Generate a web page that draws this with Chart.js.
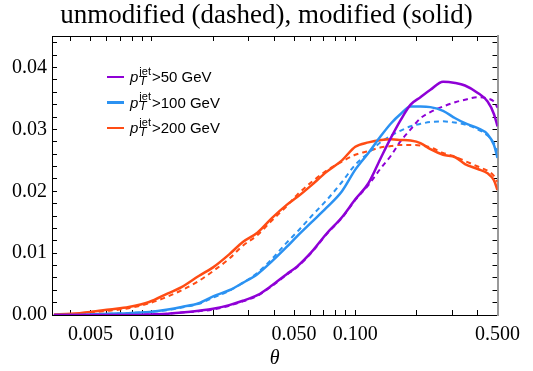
<!DOCTYPE html>
<html lang="en">
<head>
  <meta charset="UTF-8">
  <title>theta distribution</title>
  <script src="https://cdn.jsdelivr.net/npm/chart.js"></script>
  <style>
    body { margin: 0; background: #fff; }
    #wrap { position: relative; width: 533px; height: 371px; }
    #legend { position: absolute; left: 107px; top: 64px; font-family: "Liberation Sans", Arial, sans-serif; font-size: 15px; color: #000; }
    .row { height: 25.5px; display: flex; align-items: center; white-space: nowrap; }
    .mark { width: 17px; height: 2.5px; margin-right: 6px; }
    .ss { display: inline-flex; flex-direction: column; font-size: 11px; line-height: 10px; margin: 0 1px 0 1px; position: relative; top: -1px; }
    .ss i { font-size: 12px; }
  </style>
</head>
<body>
<div id="wrap">
  <canvas id="chart" width="533" height="371"></canvas>
  <div id="legend"></div>
</div>
<script>
// theta bins (log axis)
const theta = [0.0033, 0.004, 0.005, 0.0062, 0.0077, 0.0097, 0.012, 0.014, 0.017, 0.02, 0.024,
  0.028, 0.033, 0.039, 0.046, 0.052, 0.061, 0.072, 0.086, 0.1, 0.116, 0.134, 0.15, 0.167,
  0.187, 0.209, 0.234, 0.27, 0.31, 0.346, 0.4, 0.447, 0.48, 0.5];

// pT > 50 GeV
const pt50Mod = [0, 0, 0, 0, 0, 0.0001, 0.0002, 0.0004, 0.0007, 0.0010, 0.0016,
  0.0023, 0.0032, 0.0048, 0.0066, 0.0079, 0.0102, 0.0131, 0.0158, 0.0187, 0.0213, 0.0255, 0.0287, 0.0315,
  0.0340, 0.0352, 0.0364, 0.0377, 0.0375, 0.0371, 0.0359, 0.0345, 0.0325, 0.0305];
const pt50Unmod = [0, 0, 0, 0, 0, 0.0001, 0.0002, 0.0004, 0.0006, 0.0009, 0.0015,
  0.0022, 0.0031, 0.0047, 0.0065, 0.0078, 0.0101, 0.0130, 0.0157, 0.0186, 0.0210, 0.0238, 0.0258, 0.0281,
  0.0300, 0.0318, 0.0328, 0.0337, 0.0344, 0.0348, 0.0352, 0.0350, 0.0345, 0.0335];

// pT > 100 GeV
const pt100Mod = [0, 0, 0.0001, 0.0002, 0.0003, 0.0005, 0.0009, 0.0013, 0.0019, 0.0030, 0.0040,
  0.0052, 0.0066, 0.0087, 0.0110, 0.0128, 0.0150, 0.0173, 0.0200, 0.0235, 0.0262, 0.0290, 0.0310, 0.0325,
  0.0337, 0.0337, 0.0336, 0.0330, 0.0318, 0.0310, 0.0302, 0.0292, 0.0275, 0.0254];
const pt100Unmod = [0, 0, 0.0001, 0.0002, 0.0003, 0.0005, 0.0008, 0.0012, 0.0018, 0.0028, 0.0039,
  0.0052, 0.0068, 0.0091, 0.0117, 0.0135, 0.0160, 0.0185, 0.0215, 0.0243, 0.0262, 0.0280, 0.0290, 0.0298,
  0.0305, 0.0309, 0.0312, 0.0313, 0.0311, 0.0308, 0.0300, 0.0290, 0.0278, 0.0265];

// pT > 200 GeV
const pt200Mod = [0.0001, 0.0002, 0.0005, 0.0009, 0.0013, 0.0021, 0.0035, 0.0045, 0.0063, 0.0077, 0.0098,
  0.0118, 0.0133, 0.0157, 0.0178, 0.0191, 0.0210, 0.0231, 0.0250, 0.0272, 0.0279, 0.0283, 0.0284, 0.0283,
  0.0282, 0.0278, 0.0268, 0.0259, 0.0255, 0.0244, 0.0236, 0.0229, 0.0218, 0.0202];
const pt200Unmod = [0, 0.0001, 0.0004, 0.0007, 0.0011, 0.0019, 0.0030, 0.0040, 0.0055, 0.0071, 0.0091,
  0.0112, 0.0129, 0.0153, 0.0176, 0.0195, 0.0215, 0.0233, 0.0248, 0.0259, 0.0265, 0.0271, 0.0273, 0.0275,
  0.0275, 0.0274, 0.0271, 0.0262, 0.0256, 0.0249, 0.0240, 0.0233, 0.0225, 0.0215];

const seriesLabels = ['>50 GeV', '>100 GeV', '>200 GeV'];
const colors = ['#8f00d6', '#2b92f2', '#ff4c14'];

// axis ticks
const xMajor = [0.005, 0.01, 0.05, 0.1, 0.5];
const xMinor = [0.004, 0.006, 0.007, 0.008, 0.009, 0.02, 0.03, 0.04, 0.06, 0.07, 0.08, 0.09, 0.2, 0.3, 0.4];
const yMajor = [0, 0.01, 0.02, 0.03, 0.04];
const yMinor = [0.002, 0.004, 0.006, 0.008, 0.012, 0.014, 0.016, 0.018, 0.022, 0.024, 0.026, 0.028,
  0.032, 0.034, 0.036, 0.038, 0.042, 0.044];

const xMin = 0.00323, xMax = 0.5, yMin = 0, yMax = 0.0451;

function pts(vals) {
  return vals.map((v, i) => ({ x: theta[i], y: v }));
}

const allX = xMajor.concat(xMinor).sort((a, b) => a - b);
const allY = yMajor.concat(yMinor).sort((a, b) => a - b);

const serif = '"Liberation Serif", "Times New Roman", serif';

function line(data, color, dashed) {
  return {
    data: pts(data),
    borderColor: color,
    borderWidth: dashed ? 2 : 2.5,
    borderDash: dashed ? [5, 4] : [],
    pointRadius: 0,
    cubicInterpolationMode: 'monotone',
    order: dashed ? 1 : 0
  };
}

const sets = [
  line(pt50Mod, colors[0], false),
  line(pt100Mod, colors[1], false),
  line(pt200Mod, colors[2], false),
  line(pt50Unmod, colors[0], true),
  line(pt100Unmod, colors[1], true),
  line(pt200Unmod, colors[2], true)
];

const frameGrid = { drawOnChartArea: false, color: '#000', tickLength: -5, lineWidth: 1 };

new Chart(document.getElementById('chart'), {
  type: 'line',
  data: { datasets: sets },
  options: {
    responsive: false,
    animation: false,
    devicePixelRatio: 1,
    layout: { padding: 0 },
    plugins: {
      legend: { display: false },
      tooltip: { enabled: false },
      title: {
        display: true,
        text: 'unmodified (dashed), modified (solid)',
        color: '#000',
        font: { family: serif, size: 27, weight: 'normal', lineHeight: 1.1 },
        padding: { top: 1, bottom: 1 }
      }
    },
    scales: {
      x: {
        type: 'logarithmic', position: 'bottom', min: xMin, max: xMax,
        afterBuildTicks: s => { s.ticks = allX.map(v => ({ value: v })); },
        afterFit: s => { s.height = 56; },
        grid: frameGrid,
        border: { color: '#000', width: 1 },
        ticks: {
          autoSkip: false, maxRotation: 0, padding: 13, color: '#000',
          font: { family: serif, size: 20 },
          callback: v => xMajor.includes(v) ? v.toFixed(3) : ''
        },
        title: { display: true, text: 'θ', color: '#000', font: { family: serif, size: 20, style: 'italic' }, padding: 0 }
      },
      x2: {
        type: 'logarithmic', position: 'top', min: xMin, max: xMax,
        afterBuildTicks: s => { s.ticks = allX.map(v => ({ value: v })); },
        afterFit: s => { s.height = 36 - 31.7; },
        grid: frameGrid,
        border: { color: '#000', width: 1 },
        ticks: { display: false, autoSkip: false }
      },
      y: {
        type: 'linear', position: 'left', min: yMin, max: yMax,
        afterBuildTicks: s => { s.ticks = allY.map(v => ({ value: v })); },
        afterFit: s => { s.width = 52; },
        grid: frameGrid,
        border: { color: '#000', width: 1 },
        ticks: {
          autoSkip: false, padding: 10, color: '#000',
          font: { family: serif, size: 20 },
          callback: v => yMajor.some(m => Math.abs(m - v) < 1e-9) ? v.toFixed(2) : ''
        }
      },
      y2: {
        type: 'linear', position: 'right', min: yMin, max: yMax,
        afterBuildTicks: s => { s.ticks = allY.map(v => ({ value: v })); },
        afterFit: s => { s.width = 29; },
        grid: frameGrid,
        border: { color: '#999', width: 2 },
        ticks: { display: false, autoSkip: false }
      }
    }
  }
});

// legend with sub/superscripts
const legend = document.getElementById('legend');
seriesLabels.forEach((txt, i) => {
  const row = document.createElement('div');
  row.className = 'row';
  row.innerHTML = '<span class="mark" style="background:' + colors[i] + '"></span>' +
    '<i>p</i><span class="ss"><span>jet</span><i>T</i></span>' + txt.replace('>', '&gt;');
  legend.appendChild(row);
});
</script>
</body>
</html>
